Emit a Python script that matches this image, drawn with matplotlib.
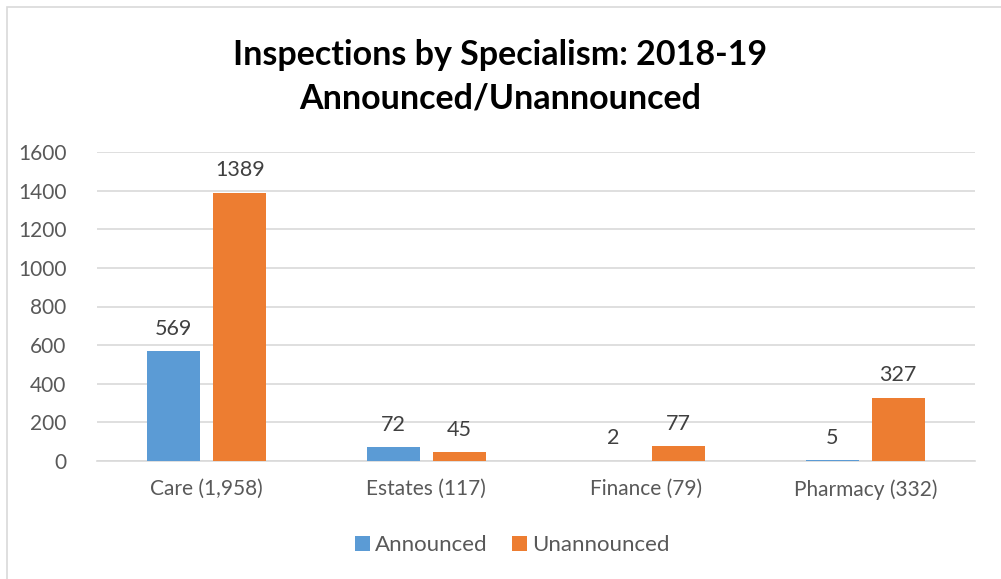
import matplotlib
matplotlib.use('Agg')
import matplotlib.pyplot as plt
import numpy as np
from matplotlib.patches import Rectangle

categories = ['Care (1,958)', 'Estates (117)', 'Finance (79)', 'Pharmacy (332)']
announced = [569, 72, 2, 5]
unannounced = [1389, 45, 77, 327]

plt.rcParams['font.family'] = ['Lato', 'DejaVu Sans']

fig = plt.figure(figsize=(10.01, 5.79), dpi=100)
W, H = 1001, 579

# chart frame
fig.patches.append(Rectangle((7 / W, -0.1), 1.2, (H - 7) / H + 0.1, transform=fig.transFigure,
                             fill=False, edgecolor='#d9d9d9', linewidth=1.2))

ax = fig.add_axes([97 / W, 1 - 461 / H, (975 - 97) / W, (461 - 152) / H])

x = np.arange(len(categories))
width = 0.24
b1 = ax.bar(x - 0.15, announced, width, color='#5B9BD5', label='Announced', zorder=3)
b2 = ax.bar(x + 0.15, unannounced, width, color='#ED7D31', label='Unannounced', zorder=3)

ax.set_xlim(-0.5, 3.5)
ax.set_ylim(0, 1600)
ax.set_yticks(range(0, 1601, 200))
ax.set_xticks(x)
ax.set_xticklabels(categories)
ax.tick_params(axis='both', length=0, labelsize=15, colors='#595959')
ax.tick_params(axis='x', pad=13)
ax.tick_params(axis='y', pad=22)

ax.grid(axis='y', color='#d9d9d9', linewidth=1.2, zorder=0)
for s in ['top', 'right', 'left']:
    ax.spines[s].set_visible(False)
ax.spines['bottom'].set_color('#d9d9d9')
ax.spines['bottom'].set_linewidth(1.2)

for rects in (b1, b2):
    for r in rects:
        h = r.get_height()
        ax.annotate(f'{h:g}', xy=(r.get_x() + r.get_width() / 2, h),
                    xytext=(0, 9), textcoords='offset points',
                    ha='center', va='bottom', fontsize=15.5, color='#404040')

fig.text(0.5, 1 - 55 / H, 'Inspections by Specialism: 2018-19', ha='center', va='center',
         fontsize=24.5, fontweight='bold', color='black')
fig.text(0.5, 1 - 98 / H, 'Announced/Unannounced', ha='center', va='center',
         fontsize=24.5, fontweight='bold', color='black')

fig.legend(handles=[b1, b2], loc='center', bbox_to_anchor=(0.512, 1 - 545 / H), ncol=2,
           frameon=False, fontsize=16, handlelength=0.65, handleheight=0.65,
           handletextpad=0.25, columnspacing=1.1, labelcolor='#595959')

fig.savefig('out.png', dpi=100)
